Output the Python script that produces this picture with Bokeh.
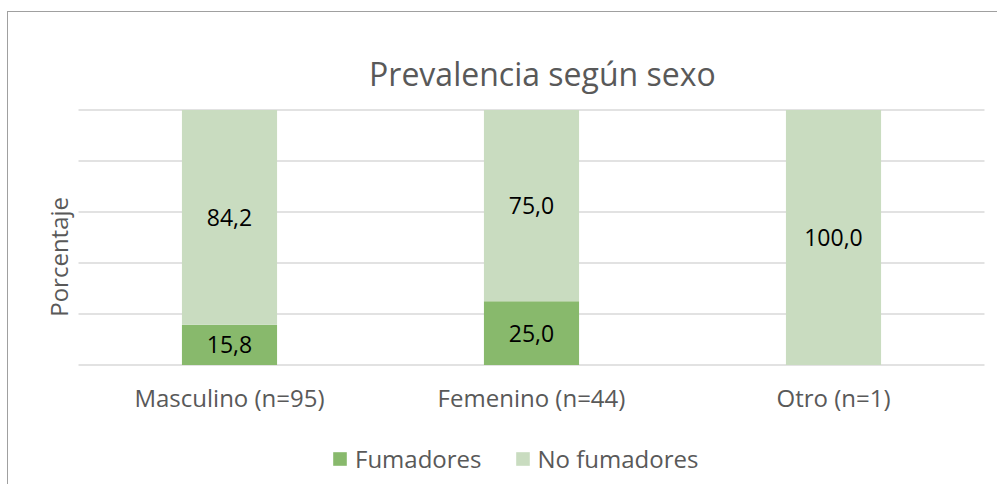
from bokeh.plotting import figure
from bokeh.models import ColumnDataSource, Range1d, Label, LabelSet, Legend, LegendItem
from bokeh.core.properties import value
from bokeh.embed import file_html
from bokeh.resources import INLINE

categories = ["Masculino (n=95)", "Femenino (n=44)", "Otro (n=1)"]
fumadores = [15.8, 25.0, 0.0]
no_fumadores = [84.2, 75.0, 100.0]
series_names = ["Fumadores", "No fumadores"]
title_text = "Prevalencia según sexo"
y_title = "Porcentaje"
grid_ticks = [0, 20, 40, 60, 80, 100]

xs = [i + 0.5 for i in range(len(categories))]
src = ColumnDataSource(dict(x=xs, cat=categories, fum=fumadores, nof=no_fumadores))

DARK = "#88B96C"
LIGHT = "#C9DCC0"
GRAY = "#595959"
FONT = "Open Sans"

# canvas = whole chart area; data ranges extend beyond the plotted categories
PX_X = 302.0   # pixels per category
PX_Y = 2.55    # pixels per percent
W, H = 990, 473
x0_px, y0_px = 70.0, 352.5   # canvas position of (x=0, y=0)
x_start = -x0_px / PX_X
x_end = (W - x0_px) / PX_X
y_end = y0_px / PX_Y
y_start = -(H - y0_px) / PX_Y

p = figure(width=W, height=H, output_backend="svg", toolbar_location=None,
           x_range=Range1d(x_start, x_end), y_range=Range1d(y_start, y_end),
           min_border=0, min_border_left=0, min_border_right=0,
           min_border_top=0, min_border_bottom=0)
p.styles = {"margin-left": "7px", "margin-top": "11px",
            "border-left": "1px solid #A0A0A0", "border-top": "1px solid #A0A0A0"}
p.outline_line_color = None
p.xaxis.visible = False
p.yaxis.visible = False
p.xgrid.visible = False
p.ygrid.visible = False
p.background_fill_color = "white"
p.border_fill_color = "white"

# gridlines
p.segment(x0=[0] * len(grid_ticks), x1=[len(categories)] * len(grid_ticks),
          y0=grid_ticks, y1=grid_ticks, line_color="#D9D9D9", line_width=1.5)

rs = p.vbar_stack(["fum", "nof"], x="x", width=0.315, source=src,
                  color=[DARK, LIGHT], line_color=None)

# data labels
lab_x, lab_y, lab_t = [], [], []
for x, f, n in zip(xs, fumadores, no_fumadores):
    if f > 0:
        lab_x.append(x); lab_y.append(f / 2); lab_t.append(f"{f:.1f}".replace(".", ","))
    if n > 0:
        lab_x.append(x); lab_y.append(f + n / 2); lab_t.append(f"{n:.1f}".replace(".", ","))
lsrc = ColumnDataSource(dict(x=lab_x, y=lab_y, t=lab_t))
p.add_layout(LabelSet(x="x", y="y", text="t", source=lsrc, text_align="center",
                      text_baseline="middle", text_font=value(FONT), text_font_size="23px",
                      text_color="black"))

# category labels
csrc = ColumnDataSource(dict(x=xs, y=[-16.5] * len(xs), t=categories))
p.add_layout(LabelSet(x="x", y="y", text="t", source=csrc, text_align="center",
                      text_baseline="alphabetic", text_font=value(FONT), text_font_size="24px",
                      text_color=GRAY))

# title
p.add_layout(Label(x=1.536, y=114.5, text=title_text, text_align="center",
                   text_baseline="alphabetic", text_font=FONT, text_font_size="32px",
                   text_color=GRAY))
# y-axis title
p.add_layout(Label(x=-0.066, y=42.4, text=y_title, text_align="center",
                   text_baseline="middle", angle=1.5708, text_font=FONT,
                   text_font_size="24px", text_color=GRAY))

legend = Legend(items=[LegendItem(label=series_names[0], renderers=[rs[0]]),
                       LegendItem(label=series_names[1], renderers=[rs[1]])],
                orientation="horizontal", location=(323, 10),
                padding=0, margin=0, spacing=32, label_standoff=7,
                glyph_width=17, glyph_height=17,
                border_line_color=None, background_fill_alpha=0,
                label_text_font=FONT, label_text_font_size="24px", label_text_color=GRAY)
p.add_layout(legend, "center")

open("out.html", "w").write(file_html(p, INLINE))
